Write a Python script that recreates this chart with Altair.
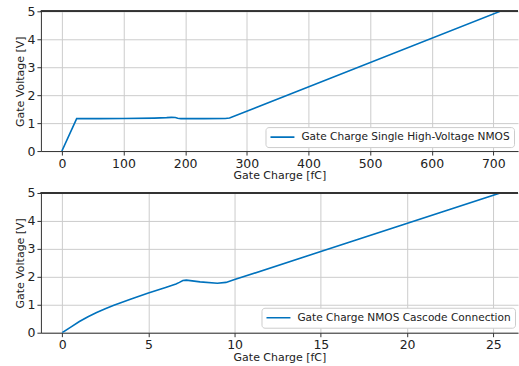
import altair as alt
import pandas as pd

# Top panel: single high-voltage NMOS
top_q = [0, 24, 60, 100, 150, 170, 178, 184, 188, 193, 230, 265, 272, 711]
top_v = [0, 1.16, 1.162, 1.165, 1.18, 1.195, 1.205, 1.2, 1.175, 1.16, 1.162, 1.165, 1.18, 5.0]
top_name = "Gate Charge Single High-Voltage NMOS"

# Bottom panel: NMOS cascode connection
bot_q = [0, 0.5, 1, 1.5, 2, 2.5, 3, 4, 5, 6, 6.6, 6.8, 7.0, 7.2, 8, 9, 9.5, 10, 25.4]
bot_v = [0, 0.2, 0.4, 0.57, 0.72, 0.86, 0.98, 1.21, 1.42, 1.62, 1.74, 1.8, 1.87, 1.88, 1.82, 1.77, 1.8, 1.9, 5.0]
bot_name = "Gate Charge NMOS Cascode Connection"

top_ticks = [0, 100, 200, 300, 400, 500, 600, 700]
bot_ticks = [0, 5, 10, 15, 20, 25]
y_ticks = [0, 1, 2, 3, 4, 5]

LINE = "#0072bd"
W, H = 478, 140
FONT = "DejaVu Sans"


def panel(q, v, name, xdom, xticks, lx, ly):
    df = pd.DataFrame({"q": q, "v": v, "s": [name] * len(q)})
    base = alt.Chart(df)
    line = base.mark_line(strokeWidth=1.6, clip=True).encode(
        x=alt.X("q:Q", scale=alt.Scale(domain=xdom, nice=False, zero=False),
                axis=alt.Axis(values=xticks, title="Gate Charge [fC]", grid=True)),
        y=alt.Y("v:Q", scale=alt.Scale(domain=[0, 5], nice=False),
                axis=alt.Axis(values=y_ticks, title="Gate Voltage [V]", grid=True)),
        color=alt.Color("s:N", scale=alt.Scale(domain=[name], range=[LINE]),
                        legend=alt.Legend(title=None, orient="none", legendX=lx, legendY=ly,
                                          symbolType="stroke", symbolSize=576,
                                          symbolStrokeWidth=1.6, clipHeight=12,
                                          labelOffset=6, padding=4, labelLimit=400,
                                          fillColor="white", strokeColor="#cccccc",
                                          cornerRadius=3, labelFont=FONT,
                                          labelFontSize=10.6, labelColor="#222222")),
    )
    topline = base.mark_rule(color="#333333", strokeWidth=1).encode(
        y=alt.value(0), x=alt.value(0), x2=alt.value(W)
    )
    return alt.layer(line, topline).properties(width=W, height=H)


c1 = panel(top_q, top_v, top_name, [-34, 740], top_ticks, 225, 116)
c2 = panel(bot_q, bot_v, bot_name, [-1.23, 26.43], bot_ticks, 221, 115)

chart = alt.vconcat(c1, c2, spacing=42, bounds="flush").resolve_scale(
    color="independent"
).resolve_legend(color="independent").properties(
    padding={"left": 14, "top": 5, "right": 0, "bottom": 0}
).configure_view(stroke=None).configure_axis(
    labelFont=FONT, titleFont=FONT, labelFontSize=12.5, titleFontSize=11,
    titleFontWeight="normal", labelColor="#222222", titleColor="#222222",
    domainColor="#333333", domainWidth=1, tickColor="#333333", tickSize=4,
    tickWidth=1, labelPadding=2, gridColor="#cccccc", gridWidth=1,
).configure_axisY(titlePadding=2).configure_axisX(titlePadding=0)

chart.save("out.html", embed_options={"renderer": "svg", "actions": False})
